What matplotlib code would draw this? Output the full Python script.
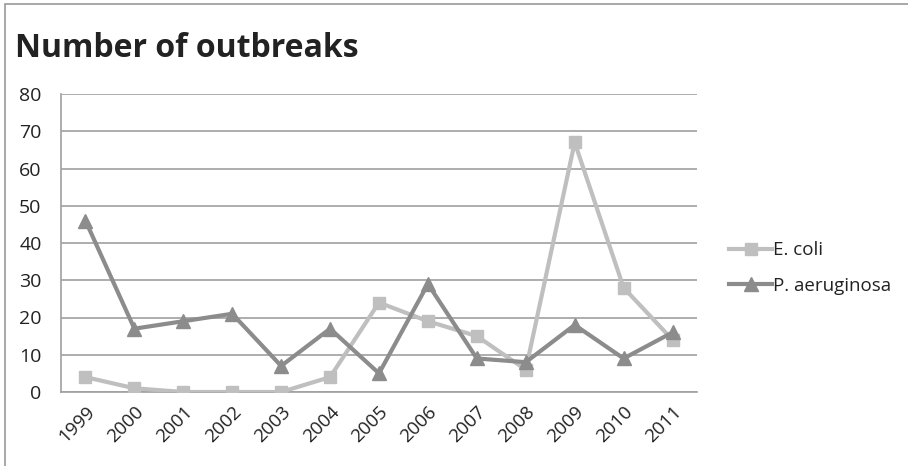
import matplotlib
matplotlib.use("Agg")
import matplotlib.pyplot as plt
from matplotlib.patches import Rectangle

years = ["1999", "2000", "2001", "2002", "2003", "2004", "2005",
         "2006", "2007", "2008", "2009", "2010", "2011"]
e_coli = [4, 1, 0, 0, 0, 4, 24, 19, 15, 6, 67, 28, 14]
p_aeruginosa = [46, 17, 19, 21, 7, 17, 5, 29, 9, 8, 18, 9, 16]
y_ticks = [0, 10, 20, 30, 40, 50, 60, 70, 80]

plt.rcParams["font.family"] = ["Open Sans", "DejaVu Sans"]

W, H = 908, 466
fig = plt.figure(figsize=(W / 100, H / 100), dpi=100)

# chart frame (extends past the right and bottom edges)
fig.patches.append(Rectangle((5 / W, -0.1), 1.2, 1 - 3.5 / H + 0.1,
                             transform=fig.transFigure, fill=False,
                             edgecolor="#9a9a9a", linewidth=1.2))

ax = fig.add_axes([61 / W, 1 - 392 / H, (697 - 61) / W, (392 - 94) / H])
x = list(range(len(years)))

ax.plot(x, e_coli, color="#bfbfbf", linewidth=3, marker="s",
        markersize=8.5, label="E. coli", zorder=3)
ax.plot(x, p_aeruginosa, color="#8c8c8c", linewidth=3, marker="^",
        markersize=10, label="P. aeruginosa", zorder=4)

ax.set_xlim(-0.5, len(years) - 0.5)
ax.set_ylim(0, 80)
ax.set_yticks(y_ticks)
ax.set_xticks(x)
ax.set_xticklabels(years, rotation=45, ha="right", va="top",
                   rotation_mode="anchor", fontsize=13.5, color="#222222")
ax.tick_params(axis="y", labelsize=14, length=0, pad=14,
               labelcolor="#222222")
ax.tick_params(axis="x", length=0, pad=8)
ax.grid(axis="y", color="#a0a0a0", linewidth=1.2)
ax.set_axisbelow(True)
for side in ["top", "right"]:
    ax.spines[side].set_visible(False)
ax.spines["left"].set_color("#a0a0a0")
ax.spines["left"].set_linewidth(1.2)
ax.spines["bottom"].set_color("#a0a0a0")
ax.spines["bottom"].set_linewidth(1.2)

fig.text(15 / W, 1 - 57 / H, "Number of outbreaks", fontsize=23,
         fontweight="bold", color="#222222", ha="left", va="baseline")

leg = ax.legend(loc="center left", bbox_to_anchor=(729 / W, 1 - 268 / H),
                bbox_transform=fig.transFigure, frameon=False,
                fontsize=13.5, handlelength=2.3, handletextpad=0.05,
                labelspacing=0.95, borderpad=0, borderaxespad=0)
for t in leg.get_texts():
    t.set_color("#222222")

fig.savefig("out.png", dpi=100)
